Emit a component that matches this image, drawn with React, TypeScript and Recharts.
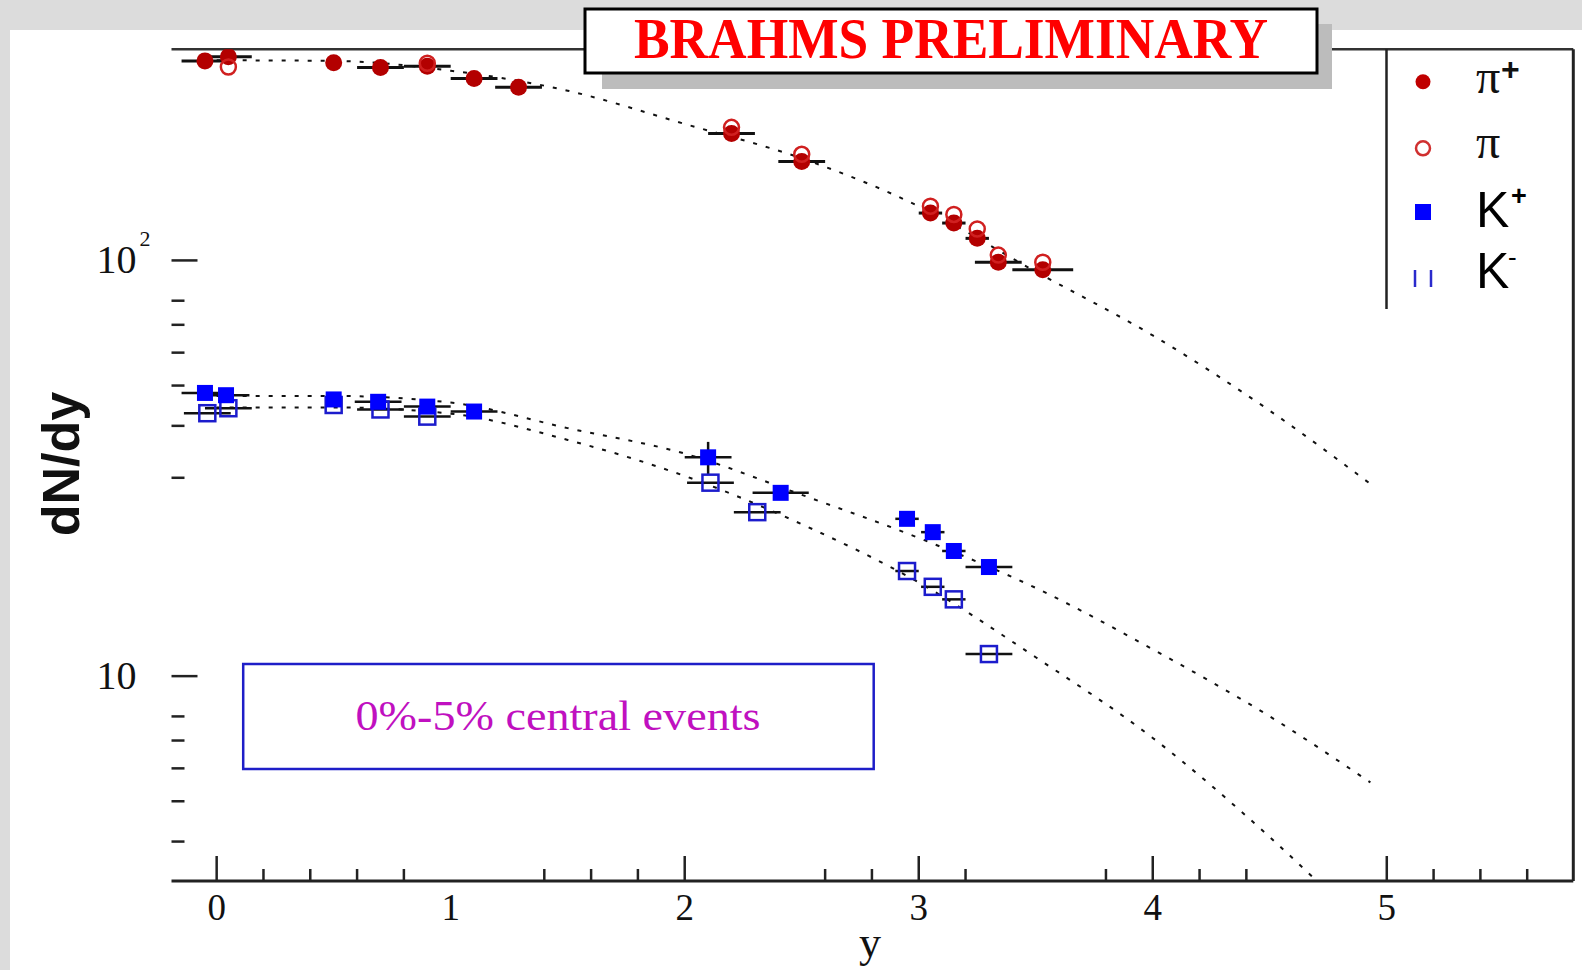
import React from 'react';
import {
  ComposedChart,
  Scatter,
  Line,
  XAxis,
  YAxis,
  ErrorBar,
  ReferenceLine,
} from 'recharts';

// pi+ (filled red circles)
const piPlusX = [-0.05, 0.05, 0.5, 0.7, 0.9, 1.1, 1.29, 2.2, 2.5, 3.05, 3.15, 3.25, 3.34, 3.53];
const piPlusVal = [302, 309, 299, 291, 293, 274, 261, 202, 173, 130, 123, 113, 99, 95];
const piPlusXErr = [0.1, 0.1, 0, 0.1, 0.1, 0.1, 0.1, 0.1, 0.1, 0.05, 0.05, 0.05, 0.1, 0.13];

// pi- (open red circles)
const piMinusX = [0.05, 0.9, 2.2, 2.5, 3.05, 3.15, 3.25, 3.34, 3.53];
const piMinusVal = [292, 298, 209, 180, 135, 129, 119, 103, 99];

// K+ (filled blue squares)
const kPlusX = [-0.05, 0.04, 0.5, 0.69, 0.9, 1.1, 2.1, 2.41, 2.95, 3.06, 3.15, 3.3];
const kPlusVal = [48.0, 47.4, 46.3, 45.7, 44.5, 43.3, 33.6, 27.6, 23.9, 22.2, 20.0, 18.3];
const kPlusXErr = [0.1, 0.1, 0, 0.1, 0.1, 0.1, 0.1, 0.12, 0.05, 0.05, 0.05, 0.1];
const kPlusYErr = [0, 0, 0, 0, 0, 0, 3, 0, 0, 0, 0, 0];

// K- (open blue squares)
const kMinusX = [-0.04, 0.05, 0.5, 0.7, 0.9, 2.11, 2.31, 2.95, 3.06, 3.15, 3.3];
const kMinusVal = [42.9, 44.1, 44.9, 43.8, 42.1, 29.2, 24.8, 17.9, 16.4, 15.3, 11.3];
const kMinusXErr = [0.1, 0.1, 0, 0.1, 0.1, 0.1, 0.1, 0.05, 0.05, 0.05, 0.1];

// dashed fit curves
const fitX = [0, 0.5, 1, 1.5, 2, 2.5, 3, 3.5, 4, 4.5, 4.93];
const piFit = [303, 302, 286, 256, 213, 176, 135, 94, 66, 43.5, 29];
const kPlusFit = [47.2, 47.2, 45.5, 39.5, 34.3, 27.3, 21.5, 16.3, 11.6, 8.0, 5.55];
const kMinusFitX = [0, 0.5, 1, 1.5, 2, 2.5, 3, 3.5, 4, 4.5, 4.68];
const kMinusFit = [44.3, 44.3, 42.8, 37.0, 30.3, 23.2, 16.8, 11.1, 7.1, 4.1, 3.3];

// axis ticks (some marks are missing in the original plot)
const xLabels = [0, 1, 2, 3, 4, 5];
const xTickMarks = [0, 0.2, 0.4, 0.6, 0.8, 1.4, 1.6, 1.8, 2, 2.6, 2.8, 3, 3.2, 3.8, 4, 4.2, 4.4, 5, 5.2, 5.4, 5.6];
const yTickMarks = [4, 5, 6, 7, 8, 10, 30, 40, 50, 60, 70, 80, 100];

const piPlusData = piPlusX.map((x, i) => ({ x, y: piPlusVal[i], xErr: piPlusXErr[i] }));
const piMinusData = piMinusX.map((x, i) => ({ x, y: piMinusVal[i] }));
const kPlusData = kPlusX.map((x, i) => ({ x, y: kPlusVal[i], xErr: kPlusXErr[i], yErr: kPlusYErr[i] }));
const kMinusData = kMinusX.map((x, i) => ({ x, y: kMinusVal[i], xErr: kMinusXErr[i] }));
const piFitData = fitX.map((x, i) => ({ x, y: piFit[i] }));
const kPlusFitData = fitX.map((x, i) => ({ x, y: kPlusFit[i] }));
const kMinusFitData = kMinusFitX.map((x, i) => ({ x, y: kMinusFit[i] }));

const xTicks = Array.from(new Set([...xTickMarks, ...xLabels])).sort((a, b) => a - b);

const SERIF = '"Liberation Serif", "DejaVu Serif", serif';
const SANS = '"Liberation Sans", Arial, sans-serif';

const XTick = (props: any) => {
  const { x, y, payload } = props;
  const v = payload.value;
  const major = xLabels.includes(v);
  const mark = xTickMarks.includes(v);
  return (
    <g>
      {mark && (
        <line x1={x} x2={x} y1={y} y2={y - (major ? 25 : 12)} stroke="#222" strokeWidth={2.5} />
      )}
      {major && (
        <text x={x} y={y + 39} textAnchor="middle" fontFamily={SERIF} fontSize={37} fill="#111">
          {v}
        </text>
      )}
    </g>
  );
};

const YTick = (props: any) => {
  const { x, y, payload } = props;
  const v = payload.value;
  const major = v === 10 || v === 100;
  return (
    <g>
      <line x1={x} x2={x + (major ? 26 : 13)} y1={y} y2={y} stroke="#222" strokeWidth={2.5} />
      {major && (
        <text x={x - 35} y={y + 13} textAnchor="end" fontFamily={SERIF} fontSize={40} fill="#111">
          10
        </text>
      )}
      {v === 100 && (
        <text x={x - 32} y={y - 14} fontFamily={SERIF} fontSize={22} fill="#111">
          2
        </text>
      )}
    </g>
  );
};

const FilledDot = (p: any) => <circle cx={p.cx} cy={p.cy} r={8.5} fill="#b30000" />;
const OpenDot = (p: any) => (
  <circle cx={p.cx} cy={p.cy} r={7.5} fill="none" stroke="#d02020" strokeWidth={2.5} />
);
const FilledSquare = (p: any) => <rect x={p.cx - 8} y={p.cy - 8} width={16} height={16} fill="#0000ff" />;
const OpenSquare = (p: any) => (
  <rect x={p.cx - 8} y={p.cy - 8} width={16} height={16} fill="none" stroke="#1c1ccc" strokeWidth={2.5} />
);

const fitStyle = { stroke: '#111', strokeWidth: 2, strokeDasharray: '4 9' };

const App: React.FC = () => {
  return (
    <div style={{ position: 'fixed', left: 0, top: 0, width: 1582, height: 970, background: '#dcdcdc' }}>
      <div style={{ position: 'absolute', left: 10, top: 30, right: 0, bottom: 0, background: '#fff' }} />
      <div style={{ position: 'absolute', left: 0, top: 0 }}>
        <ComposedChart
          width={1582}
          height={970}
          margin={{ top: 49.3, right: 8.7, bottom: 29, left: 71.5 }}
        >
          <XAxis
            dataKey="x"
            type="number"
            domain={[-0.193, 5.797]}
            allowDataOverflow
            ticks={xTicks}
            interval={0}
            height={60}
            tickSize={0}
            tickMargin={0}
            tickLine={false}
            tick={<XTick />}
            axisLine={{ stroke: '#222', strokeWidth: 3 }}
          />
          <YAxis
            dataKey="y"
            type="number"
            scale="log"
            domain={[3.215, 322]}
            allowDataOverflow
            ticks={yTickMarks}
            interval={0}
            width={100}
            tickSize={0}
            tickMargin={0}
            tickLine={false}
            tick={<YTick />}
            axisLine={false}
          />
          <ReferenceLine y={322} stroke="#333" strokeWidth={2.5} ifOverflow="visible" />
          <ReferenceLine x={5.797} stroke="#222" strokeWidth={3} ifOverflow="visible" />

          <Line data={piFitData} dataKey="y" type="monotone" dot={false} {...fitStyle} isAnimationActive={false} />
          <Line data={kPlusFitData} dataKey="y" type="monotone" dot={false} {...fitStyle} isAnimationActive={false} />
          <Line data={kMinusFitData} dataKey="y" type="monotone" dot={false} {...fitStyle} isAnimationActive={false} />

          <Scatter data={kMinusData} dataKey="y" shape={OpenSquare} isAnimationActive={false}>
            <ErrorBar dataKey="xErr" direction="x" width={0} stroke="#111" strokeWidth={2.5} />
          </Scatter>
          <Scatter data={kPlusData} dataKey="y" shape={FilledSquare} isAnimationActive={false}>
            <ErrorBar dataKey="xErr" direction="x" width={0} stroke="#111" strokeWidth={2.5} />
            <ErrorBar dataKey="yErr" direction="y" width={0} stroke="#111" strokeWidth={2.5} />
          </Scatter>
          <Scatter data={piPlusData} dataKey="y" shape={FilledDot} isAnimationActive={false}>
            <ErrorBar dataKey="xErr" direction="x" width={0} stroke="#111" strokeWidth={3} />
          </Scatter>
          <Scatter data={piMinusData} dataKey="y" shape={OpenDot} isAnimationActive={false} />
        </ComposedChart>
      </div>

      <svg
        width={1582}
        height={970}
        style={{ position: 'absolute', left: 0, top: 0, pointerEvents: 'none' }}
      >
        {/* title box */}
        <rect x={602} y={24} width={730} height={65} fill="#bcbcbc" />
        <rect x={585} y={9} width={732} height={64} fill="#fff" stroke="#000" strokeWidth={3} />
        <text
          x={951}
          y={58}
          textAnchor="middle"
          fontFamily={SERIF}
          fontWeight="bold"
          fontSize={57}
          fill="#ff0000"
          textLength={634}
          lengthAdjust="spacingAndGlyphs"
        >
          BRAHMS PRELIMINARY
        </text>

        {/* legend */}
        <line x1={1386.5} x2={1386.5} y1={49} y2={309} stroke="#222" strokeWidth={2.5} />
        <circle cx={1423} cy={81.7} r={7.5} fill="#c00000" />
        <text x={1476} y={93} fontFamily={SERIF} fontSize={48} fill="#111">π</text>
        <text x={1501} y={80} fontFamily={SANS} fontWeight="bold" fontSize={32} fill="#111">+</text>
        <circle cx={1423} cy={148.3} r={7} fill="none" stroke="#d03030" strokeWidth={2.5} />
        <text x={1476} y={158} fontFamily={SERIF} fontSize={48} fill="#111">π</text>
        <rect x={1415} y={204} width={16} height={16} fill="#0000ff" />
        <text x={1476} y={226.7} fontFamily={SANS} fontSize={50} fill="#000">K</text>
        <text x={1511} y={205} fontFamily={SANS} fontWeight="bold" fontSize={27} fill="#000">+</text>
        <line x1={1415} x2={1415} y1={270} y2={287} stroke="#2a2acc" strokeWidth={2.5} />
        <line x1={1431} x2={1431} y1={270} y2={287} stroke="#2a2acc" strokeWidth={2.5} />
        <text x={1476} y={288.3} fontFamily={SANS} fontSize={50} fill="#000">K</text>
        <text x={1508} y={266} fontFamily={SANS} fontSize={26} fill="#000">-</text>

        {/* annotation */}
        <rect x={243.2} y={664} width={630.5} height={105} fill="none" stroke="#1e1ec8" strokeWidth={2.5} />
        <text
          x={558}
          y={730}
          textAnchor="middle"
          fontFamily={SERIF}
          fontSize={43}
          fill="#c010c0"
          textLength={405}
          lengthAdjust="spacingAndGlyphs"
        >
          0%-5% central events
        </text>

        {/* axis titles */}
        <text
          x={79}
          y={464}
          transform="rotate(-90 79 464)"
          textAnchor="middle"
          fontFamily={SANS}
          fontWeight="bold"
          fontSize={52}
          fill="#111"
        >
          dN/dy
        </text>
        <text x={870} y={957} textAnchor="middle" fontFamily={SERIF} fontSize={44} fill="#111">
          y
        </text>
      </svg>
    </div>
  );
};

export default App;
